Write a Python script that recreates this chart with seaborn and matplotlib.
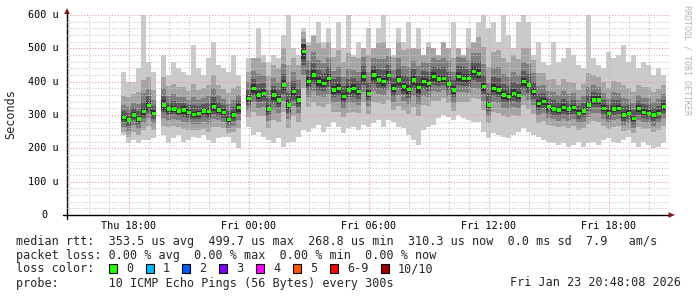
import numpy as np
import matplotlib
matplotlib.use("Agg")
import matplotlib.pyplot as plt
import seaborn as sns
import pandas as pd
from matplotlib.ticker import MultipleLocator
from matplotlib.patches import Polygon, Rectangle
from matplotlib.lines import Line2D

nan = np.nan

# ---------------- data (values in microseconds, 15-minute steps from Thu 17:45) ----------------
start_hour = 17.75
step_hours = 0.25

median_rtt = [293, 285, 300, 288, 310, 328, 305, nan, 330, 318,
              318, 312, 315, 308, 302, 304, 312, 310, 325, 315,
              308, 287, 300, 322, nan, 350, 380, 360, 365, 318,
              360, 345, 390, 330, 370, 345, 490, 400, 420, 400,
              395, 410, 375, 380, 355, 375, 380, 370, 415, 365,
              420, 405, 400, 418, 380, 405, 385, 377, 405, 382,
              400, 395, 415, 408, 410, 393, 375, 415, 410, 410,
              430, 425, 385, 330, 380, 375, 360, 355, 365, 358,
              400, 390, 370, 335, 340, 325, 318, 315, 322, 318,
              322, 305, 312, 330, 345, 345, 320, 305, 318, 320,
              300, 305, 290, 320, 308, 305, 300, 305, 325]

ping_max = [430, 400, 400, 440, 600, 460, 430, nan, 480, 420,
            460, 440, 430, 420, 510, 440, 420, 470, 520, 450,
            440, 430, 480, 420, nan, 470, 470, 560, 480, 460,
            480, 470, 540, 600, 500, 480, 560, 520, 540, 580,
            520, 560, 500, 580, 500, 600, 480, 520, 500, 560,
            500, 560, 600, 500, 480, 560, 520, 580, 500, 560,
            480, 520, 500, 480, 520, 500, 580, 500, 480, 560,
            520, 580, 600, 560, 580, 520, 600, 540, 500, 580,
            600, 580, 480, 520, 460, 450, 520, 460, 470, 500,
            480, 450, 440, 600, 470, 450, 440, 490, 470, 480,
            510, 460, 480, 440, 460, 450, 420, 440, 420]

ping_min = [240, 215, 225, 215, 225, 225, 230, nan, 240, 215,
            230, 240, 220, 225, 235, 230, 240, 225, 215, 230,
            235, 235, 215, 200, nan, 265, 240, 250, 235, 225,
            215, 230, 205, 215, 220, 235, 255, 250, 260, 270,
            250, 265, 280, 265, 245, 260, 265, 255, 270, 265,
            275, 285, 265, 285, 280, 265, 260, 240, 225, 210,
            255, 265, 270, 290, 300, 295, 285, 300, 290, 285,
            280, 280, 250, 230, 245, 240, 235, 230, 240, 250,
            260, 250, 240, 235, 225, 220, 215, 210, 215, 205,
            210, 220, 205, 215, 220, 210, 225, 230, 220, 215,
            225, 235, 215, 205, 220, 210, 200, 205, 215]

# distance of the 2nd / 9th ping from the median
ping2_below = [45, 50, 52, 48, 55, 60, 50, 0, 62, 55, 50, 48, 58, 52, 47, 50, 55, 60, 62, 50, 48, 40, 52, 60,
               0, 55, 70, 62, 68, 58, 75, 65, 80, 70, 72, 65, 110, 75, 80, 72, 70, 78, 65, 70, 60, 68, 72, 65, 75, 62, 80, 70, 68,
               72, 65, 78, 70, 75, 80, 85, 70, 68, 72, 65, 60, 58, 62, 75, 70, 72, 80, 78, 70, 55, 70, 68, 62, 60, 65, 62,
               70, 72, 68, 60, 58, 55, 50, 52, 55, 58, 55, 50, 52, 58, 62, 65, 52, 48, 55, 52, 48, 50, 45, 55, 50, 48, 52, 50, 58]
ping9_above = [65, 70, 62, 80, 95, 85, 70, 0, 85, 68, 75, 72, 70, 65, 90, 70, 68, 80, 95, 75, 70, 78, 80, 65,
               0, 80, 90, 110, 95, 100, 90, 95, 110, 120, 100, 105, 60, 110, 120, 115, 105, 110, 100, 115, 105, 110, 95, 100, 100, 115, 90, 110, 120,
               105, 95, 115, 110, 120, 100, 115, 105, 110, 95, 100, 110, 120, 95, 105, 110, 90, 95, 110, 120, 115, 110, 120, 110, 105, 115, 110,
               100, 110, 95, 90, 85, 80, 90, 75, 85, 80, 75, 70, 80, 95, 75, 70, 80, 75, 85, 80, 90, 75, 80, 70, 75, 80, 70, 72, 65]
# 3rd / 8th ping
ping3_below = [28, 32, 30, 30, 35, 38, 30, 0, 40, 32, 30, 28, 35, 32, 28, 30, 34, 36, 38, 30, 30, 25, 32, 36,
               0, 35, 42, 38, 40, 35, 45, 40, 48, 42, 44, 40, 70, 45, 48, 44, 42, 46, 40, 42, 36, 40, 44, 40, 45, 38, 48, 42, 40,
               44, 40, 46, 42, 45, 48, 50, 42, 40, 44, 40, 36, 35, 38, 45, 42, 44, 48, 46, 42, 34, 42, 40, 38, 36, 40, 38,
               42, 44, 40, 36, 35, 34, 30, 32, 34, 35, 33, 30, 32, 35, 38, 40, 32, 30, 34, 32, 30, 30, 28, 34, 30, 30, 32, 30, 35]
ping8_above = [38, 40, 36, 45, 55, 50, 40, 0, 50, 40, 44, 42, 40, 38, 52, 40, 40, 46, 55, 44, 40, 45, 46, 38,
               0, 48, 52, 62, 55, 58, 52, 55, 62, 68, 58, 60, 38, 62, 68, 65, 60, 62, 58, 65, 60, 62, 55, 58, 58, 65, 52, 62, 68,
               60, 55, 65, 62, 68, 58, 65, 60, 62, 55, 58, 62, 68, 55, 60, 62, 52, 55, 62, 68, 65, 62, 68, 62, 60, 65, 62,
               58, 62, 55, 52, 50, 46, 52, 44, 50, 46, 44, 40, 46, 55, 44, 40, 46, 44, 50, 46, 52, 44, 46, 40, 44, 46, 40, 42, 38]
# 4th / 7th ping
ping4_below = [15, 18, 16, 16, 20, 22, 17, 0, 22, 18, 16, 15, 20, 18, 15, 16, 19, 20, 22, 17, 16, 14, 18, 20,
               0, 20, 24, 22, 22, 20, 25, 22, 26, 24, 25, 22, 40, 25, 26, 24, 23, 25, 22, 24, 20, 22, 25, 22, 25, 21, 26, 24, 22,
               24, 22, 25, 23, 25, 26, 28, 23, 22, 24, 22, 20, 19, 21, 25, 23, 24, 26, 25, 23, 19, 23, 22, 21, 20, 22, 21,
               23, 24, 22, 20, 19, 19, 17, 18, 19, 19, 18, 17, 18, 19, 21, 22, 18, 17, 19, 18, 17, 17, 16, 19, 17, 17, 18, 17, 19]
ping7_above = [20, 22, 20, 25, 30, 28, 22, 0, 28, 22, 24, 23, 22, 21, 28, 22, 22, 25, 30, 24, 22, 25, 25, 21,
               0, 26, 28, 34, 30, 32, 28, 30, 34, 36, 32, 33, 22, 34, 36, 35, 32, 34, 32, 35, 33, 34, 30, 32, 32, 35, 28, 34, 36,
               33, 30, 35, 34, 36, 32, 35, 33, 34, 30, 32, 34, 36, 30, 33, 34, 28, 30, 34, 36, 35, 34, 36, 34, 33, 35, 34,
               32, 34, 30, 28, 27, 25, 28, 24, 27, 25, 24, 22, 25, 30, 24, 22, 25, 24, 27, 25, 28, 24, 25, 22, 24, 25, 22, 23, 21]
# 5th / 6th ping (core)
ping56_half = [8, 10, 9, 8, 12, 14, 9, 0, 14, 10, 9, 8, 11, 10, 8, 9, 10, 12, 14, 9, 9, 8, 10, 12,
               0, 10, 14, 12, 12, 10, 14, 12, 16, 14, 14, 12, 22, 14, 15, 13, 12, 14, 12, 13, 10, 12, 14, 12, 14, 11, 15, 13, 12,
               13, 12, 14, 12, 14, 15, 16, 12, 12, 13, 12, 10, 10, 11, 14, 12, 13, 15, 14, 12, 10, 12, 12, 11, 10, 12, 11,
               12, 13, 12, 10, 10, 10, 9, 9, 10, 10, 9, 9, 9, 10, 11, 12, 9, 9, 10, 9, 9, 9, 8, 10, 9, 9, 9, 9, 10]

xtick_hours = [18, 24, 30, 36, 42]
xtick_labels = ["Thu 18:00", "Fri 00:00", "Fri 06:00", "Fri 12:00", "Fri 18:00"]
ytick_values = [0, 100, 200, 300, 400, 500, 600]
ytick_labels = ["0", "100 u", "200 u", "300 u", "400 u", "500 u", "600 u"]

loss_labels = ["0", "1", "2", "3", "4", "5", "6-9", "10/10"]
loss_colors = ["#26ff00", "#00b8ff", "#0059ff", "#7e00ff", "#ff00ff", "#ff5500", "#ff0000", "#a10000"]

line_rtt = "median rtt:  353.5 us avg  499.7 us max  268.8 us min  310.3 us now  0.0 ms sd  7.9   am/s"
line_loss = "packet loss: 0.00 % avg  0.00 % max  0.00 % min  0.00 % now"
line_probe = "probe:       10 ICMP Echo Pings (56 Bytes) every 300s"
stamp = "Fri Jan 23 20:48:08 2026"

# ---------------- figure ----------------
sns.set_style("white")
plt.rcParams['font.family'] = ['DejaVu Sans Mono', 'DejaVu Sans']

W, H = 697, 297
fig = plt.figure(figsize=(W / 100, H / 100), dpi=100)
fig.patch.set_facecolor("white")


def fx(px):
    return px / W


def fy(py):
    return 1 - py / H


ax = fig.add_axes([fx(67), fy(215), (669 - 67) / W, 200 / H])
ax.set_facecolor("white")

med = np.array(median_rtt, dtype=float)
n = len(med)
t = start_hour + step_hours * np.arange(n)
pmin = np.array(ping_min, dtype=float)
pmax = np.array(ping_max, dtype=float)
valid = ~np.isnan(med)


def clip(a):
    return np.minimum(np.maximum(a, pmin), pmax)


bands = [
    (pmin, pmax, "#cacaca"),
    (clip(med - np.array(ping2_below)), clip(med + np.array(ping9_above)), "#a4a4a4"),
    (clip(med - np.array(ping3_below)), clip(med + np.array(ping8_above)), "#7e7e7e"),
    (clip(med - np.array(ping4_below)), clip(med + np.array(ping7_above)), "#585858"),
    (clip(med - np.array(ping56_half)), clip(med + np.array(ping56_half)), "#323232"),
]
for lo, hi, col in bands:
    ax.bar(t[valid], (hi - lo)[valid], bottom=lo[valid], width=step_hours,
           color=col, linewidth=0, align="center", zorder=1)

df = pd.DataFrame({"t": t[valid], "med": med[valid]})
sns.scatterplot(data=df, x="t", y="med", marker="s", s=6, color="#26ff00",
                edgecolor="none", linewidth=0, ax=ax, zorder=4, legend=False)
ax.set_xlabel("")
ax.set_ylabel("")

ax.set_xlim(14.9, 45.0)
ax.set_ylim(0, 600)

for s in ["top", "right"]:
    ax.spines[s].set_visible(False)
for s in ["left", "bottom"]:
    ax.spines[s].set_color("black")
    ax.spines[s].set_linewidth(1.0)

ax.xaxis.set_minor_locator(MultipleLocator(1))
ax.set_xticks(xtick_hours, labels=xtick_labels)
ax.yaxis.set_major_locator(MultipleLocator(100))
ax.yaxis.set_minor_locator(MultipleLocator(20))

ax.set_axisbelow(False)
ax.grid(which="major", color="#e4a0a0", linestyle=(0, (1, 1.5)), linewidth=0.8, zorder=2.5)
ax.grid(which="minor", color="#c8c8c8", linestyle=(0, (1, 1.5)), linewidth=0.8, zorder=2.5)

ax.tick_params(axis="x", which="major", length=3, width=0.8, color="#d08080",
               labelsize=7.3, pad=1, labelcolor="black")
ax.tick_params(axis="x", which="minor", length=2, width=0.8, color="#b0b0b0")
ax.tick_params(axis="y", which="major", length=3, width=0.8, color="#d08080", labelleft=False)
ax.tick_params(axis="y", which="minor", length=0)

ytr = ax.get_yaxis_transform()
for v, lab in zip(ytick_values, ytick_labels):
    xr = (59 - 67) / 602 if lab != "0" else (47 - 67) / 602
    ax.text(xr, v, lab, transform=ytr, ha="right", va="center", fontsize=7.3,
            color="black", clip_on=False)

# axis extensions and arrows
fig.add_artist(Line2D([fx(63), fx(67)], [fy(215), fy(215)], color="black", lw=1.0))
fig.add_artist(Line2D([fx(67), fx(67)], [fy(215), fy(219)], color="black", lw=1.0))
fig.add_artist(Line2D([fx(67), fx(67)], [fy(15), fy(13)], color="black", lw=1.0))
fig.add_artist(Polygon([[fx(67), fy(8)], [fx(64.2), fy(14)], [fx(69.8), fy(14)]],
                       closed=True, color="#8b1a1a", lw=0))
fig.add_artist(Polygon([[fx(675), fy(215)], [fx(668.5), fy(212.2)], [fx(668.5), fy(217.8)]],
                       closed=True, color="#8b1a1a", lw=0))

# labels
fig.text(fx(11), fy(114), "Seconds", rotation=90, ha="center", va="center", fontsize=8.5)
fig.text(fx(687), fy(5), "RRDTOOL / TOBI OETIKER", rotation=270, ha="center", va="top",
         fontsize=6, color="#b4b4b4")

LFS = 8.5
fig.text(fx(16), fy(241), line_rtt, ha="left", va="center", fontsize=LFS)
fig.text(fx(16), fy(255), line_loss, ha="left", va="center", fontsize=LFS)
fig.text(fx(16), fy(269), "loss color:", ha="left", va="center", fontsize=LFS)
bx = 108.7
for lab, col in zip(loss_labels, loss_colors):
    fig.add_artist(Rectangle((fx(bx), fy(273.3)), 8 / W, 9 / H, facecolor=col,
                             edgecolor="black", linewidth=0.8))
    fig.text(fx(bx + 17.3), fy(269), lab, ha="left", va="center", fontsize=LFS)
    bx += 36.8 + 7.1 * (len(lab) - 1)
fig.text(fx(16), fy(283), line_probe, ha="left", va="center", fontsize=LFS)
fig.text(fx(680.5), fy(283), stamp, ha="right", va="center", fontsize=LFS)

fig.savefig("out.png", dpi=100, facecolor="white")
